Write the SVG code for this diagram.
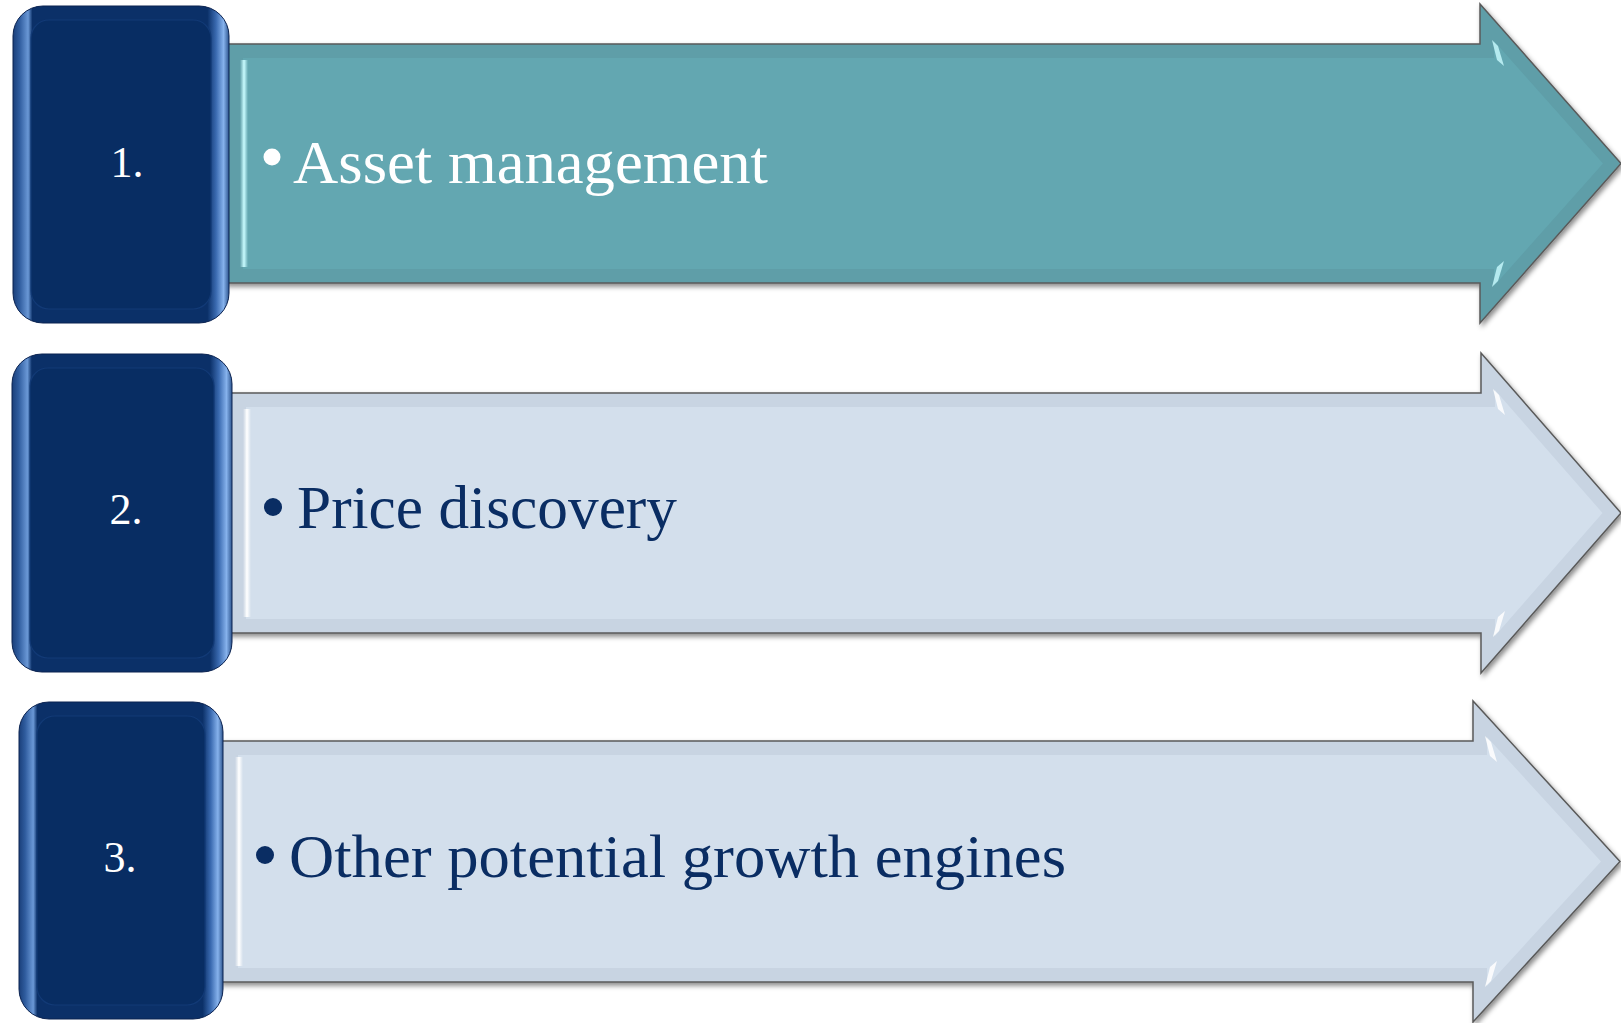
<svg xmlns="http://www.w3.org/2000/svg" width="1621" height="1023" viewBox="0 0 1621 1023">
<style>
.txt{font-family:"Liberation Serif","Times New Roman",serif;font-size:62px}
.num{font-family:"Liberation Serif","Times New Roman",serif;font-size:44px;fill:#ffffff;text-anchor:middle}
.outline{stroke:#5a5a5a;stroke-width:1.5}
.tealOuter{fill:#5f9ea8}
.tealInner{fill:#63a7b1}
.lightOuter{fill:#c8d4e2}
.lightInner{fill:#d3dfec}
.boxOuter{fill:url(#boxGrad);stroke:#0a2250;stroke-width:1}
.boxInner{fill:#082d63;stroke:#123a76;stroke-width:1.2}
</style>
<defs>
<filter id="sh" x="-5%" y="-10%" width="110%" height="125%">
<feDropShadow dx="2" dy="3" stdDeviation="2.5" flood-color="#000" flood-opacity="0.45"/>
</filter>
<linearGradient id="boxGrad" x1="0" y1="0" x2="1" y2="0">
<stop offset="0" stop-color="#1a3f7a"/>
<stop offset="0.03" stop-color="#2f5c9e"/>
<stop offset="0.07" stop-color="#6a98d6"/>
<stop offset="0.09" stop-color="#0b3068"/>
<stop offset="0.9" stop-color="#0b3068"/>
<stop offset="0.94" stop-color="#3a6ab0"/>
<stop offset="0.975" stop-color="#86b2ec"/>
<stop offset="1" stop-color="#2d558f"/>
</linearGradient>
<linearGradient id="tealLeft" x1="0" y1="0" x2="1" y2="0">
<stop offset="0" stop-color="#c9fbff" stop-opacity="0"/>
<stop offset="0.5" stop-color="#c9fbff"/>
<stop offset="1" stop-color="#c9fbff" stop-opacity="0"/>
</linearGradient>
<linearGradient id="lightLeft" x1="0" y1="0" x2="1" y2="0">
<stop offset="0" stop-color="#ffffff" stop-opacity="0"/>
<stop offset="0.5" stop-color="#ffffff"/>
<stop offset="1" stop-color="#ffffff" stop-opacity="0"/>
</linearGradient>
</defs>

<g id="arrow1">
<polygon class="tealOuter outline" filter="url(#sh)" points="225,44 1480,44 1480,4 1621,163.5 1480,323 1480,283 225,283"/>
<polygon class="tealInner" points="243,58 1494,58 1494,41 1603,163.5 1494,286 1494,269 243,269"/>
<rect x="240" y="60" width="8" height="207" fill="url(#tealLeft)"/>
<polygon fill="#c9fbff" opacity="0.8" points="1492,40 1498,46 1504,66 1497,60"/>
<polygon fill="#c9fbff" opacity="0.8" points="1492,287 1498,281 1504,261 1497,267"/>
<circle cx="272" cy="157" r="8.5" fill="#ffffff"/>
<text class="txt" x="293" y="183" fill="#ffffff" textLength="475" lengthAdjust="spacingAndGlyphs">Asset management</text>
</g>

<g id="arrow2">
<polygon class="lightOuter outline" filter="url(#sh)" points="228,393 1481,393 1481,353 1621,513 1481,673 1481,633 228,633"/>
<polygon class="lightInner" points="246,407 1495,407 1495,390 1602.5,513 1495,636 1495,619 246,619"/>
<rect x="243" y="409" width="8" height="208" fill="url(#lightLeft)"/>
<polygon fill="#ffffff" opacity="0.85" points="1493,389 1499,395 1505,415 1498,409"/>
<polygon fill="#ffffff" opacity="0.85" points="1493,637 1499,631 1505,611 1498,617"/>
<circle cx="273" cy="507" r="9" fill="#0a2d63"/>
<text class="txt" x="297" y="528" fill="#0a2d63" textLength="380" lengthAdjust="spacingAndGlyphs">Price discovery</text>
</g>

<g id="arrow3">
<polygon class="lightOuter outline" filter="url(#sh)" points="220,741 1473,741 1473,701 1620,861.5 1473,1022 1473,982 220,982"/>
<polygon class="lightInner" points="238,755 1487,755 1487,737 1601,861.5 1487,986 1487,968 238,968"/>
<rect x="235" y="757" width="8" height="209" fill="url(#lightLeft)"/>
<polygon fill="#ffffff" opacity="0.85" points="1485,736 1491,742 1497,762 1490,756"/>
<polygon fill="#ffffff" opacity="0.85" points="1485,987 1491,981 1497,961 1490,967"/>
<circle cx="265" cy="855" r="9" fill="#0a2d63"/>
<text class="txt" x="289" y="877" fill="#0a2d63" textLength="777" lengthAdjust="spacingAndGlyphs">Other potential growth engines</text>
</g>

<g id="box1">
<rect class="boxOuter" x="13" y="6" width="216" height="317" rx="30" ry="30"/>
<rect class="boxInner" x="31" y="20" width="180" height="289" rx="18" ry="18"/>
<text class="num" x="127" y="177">1.</text>
</g>

<g id="box2">
<rect class="boxOuter" x="12" y="354" width="220" height="318" rx="30" ry="30"/>
<rect class="boxInner" x="30" y="368" width="184" height="290" rx="18" ry="18"/>
<text class="num" x="126" y="524">2.</text>
</g>

<g id="box3">
<rect class="boxOuter" x="19" y="702" width="204" height="317" rx="30" ry="30"/>
<rect class="boxInner" x="37" y="716" width="168" height="289" rx="18" ry="18"/>
<text class="num" x="120" y="872">3.</text>
</g>

<g id="connectors"></g>
</svg>
